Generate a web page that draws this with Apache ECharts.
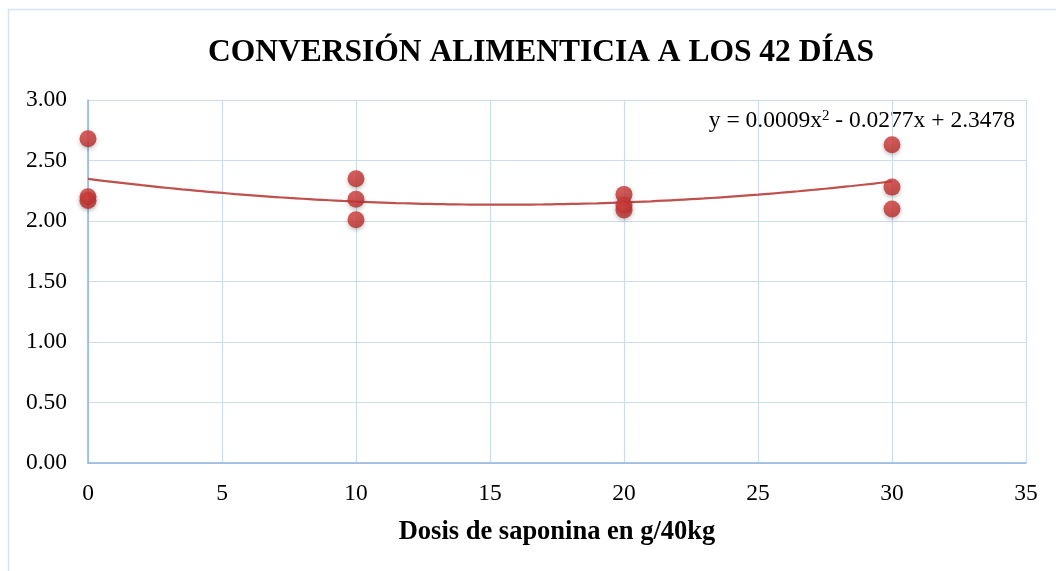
<!DOCTYPE html>
<html><head><meta charset="utf-8">
<script src="https://cdn.jsdelivr.net/npm/echarts@6/dist/echarts.min.js"></script>
<style>html,body{margin:0;padding:0;background:#fff}#c{width:1056px;height:571px}</style>
</head><body><div id="c"></div>
<script>
var doses = [0, 0, 0, 10, 10, 10, 20, 20, 20, 30, 30, 30];
var conversion = [2.68, 2.20, 2.17, 2.35, 2.18, 2.01, 2.22, 2.13, 2.09, 2.63, 2.28, 2.10];
var trendCoef = [0.0009, -0.0277, 2.3478]; // a, b, c of y = a x^2 + b x + c
var trendRange = [0, 30];
var titleText = 'CONVERSIÓN ALIMENTICIA A LOS 42 DÍAS';
var xName = 'Dosis de saponina en g/40kg';
var eqText = 'y = 0.0009x{s|2} - 0.0277x + 2.3478';

var pts = doses.map(function (d, i) { return [d, conversion[i]]; });
var trend = [];
for (var x = trendRange[0]; x <= trendRange[1] + 1e-9; x += 0.5) {
  trend.push([x, trendCoef[0] * x * x + trendCoef[1] * x + trendCoef[2]]);
}
var chart = echarts.init(document.getElementById('c'), null, {renderer: 'canvas'});
var serif = '"Liberation Serif", "Times New Roman", serif';
chart.setOption({
  animation: false,
  graphic: [{
    type: 'rect', shape: {x: 8.5, y: 9.5, width: 1060, height: 580},
    style: {fill: 'none', stroke: '#d6e2f1', lineWidth: 1.5}
  }, {
    type: 'text', right: 41, top: 109,
    style: {
      text: eqText, font: '23.5px ' + serif, fill: '#000',
      rich: {s: {fontSize: 15, fontFamily: serif, verticalAlign: 'top', padding: [0, 0, 9, 0], fill: '#000'}}
    }
  }],
  title: {
    text: titleText, left: 536, top: 32, textAlign: 'center',
    textStyle: {fontFamily: serif, fontWeight: 'bold', fontSize: 31.5, color: '#000'}
  },
  grid: {left: 88, right: 30, top: 100, bottom: 108, containLabel: false},
  xAxis: {
    type: 'value', min: 0, max: 35, interval: 5,
    name: xName, nameLocation: 'middle', nameGap: 56,
    nameTextStyle: {fontFamily: serif, fontWeight: 'bold', fontSize: 26.5, color: '#000'},
    axisLine: {show: true, lineStyle: {color: '#8eb4e3', width: 1.5}},
    axisTick: {show: false},
    axisLabel: {fontFamily: serif, fontSize: 23.5, color: '#000', margin: 19},
    splitLine: {show: true, lineStyle: {color: '#cbdcf0', width: 1.2}}
  },
  yAxis: {
    type: 'value', min: 0, max: 3, interval: 0.5,
    axisLine: {show: true, lineStyle: {color: '#8eb4e3', width: 1.5}},
    axisTick: {show: false},
    axisLabel: {fontFamily: serif, fontSize: 23.5, color: '#000', margin: 21,
      formatter: function (v) { return v.toFixed(2); }},
    splitLine: {show: true, lineStyle: {color: '#cbdcf0', width: 1.2}}
  },
  series: [{
    type: 'line', data: trend, showSymbol: false, smooth: true,
    lineStyle: {color: '#c0504d', width: 2.2}, z: 2, silent: true
  }, {
    type: 'scatter', data: pts, symbolSize: 17, z: 3,
    itemStyle: {
      color: new echarts.graphic.RadialGradient(0.4, 0.35, 0.7, [
        {offset: 0, color: '#d8403d'}, {offset: 1, color: '#b52a28'}]),
      shadowBlur: 4, shadowColor: 'rgba(0,0,0,0.3)', shadowOffsetY: 2
    }
  }]
});
</script></body></html>
